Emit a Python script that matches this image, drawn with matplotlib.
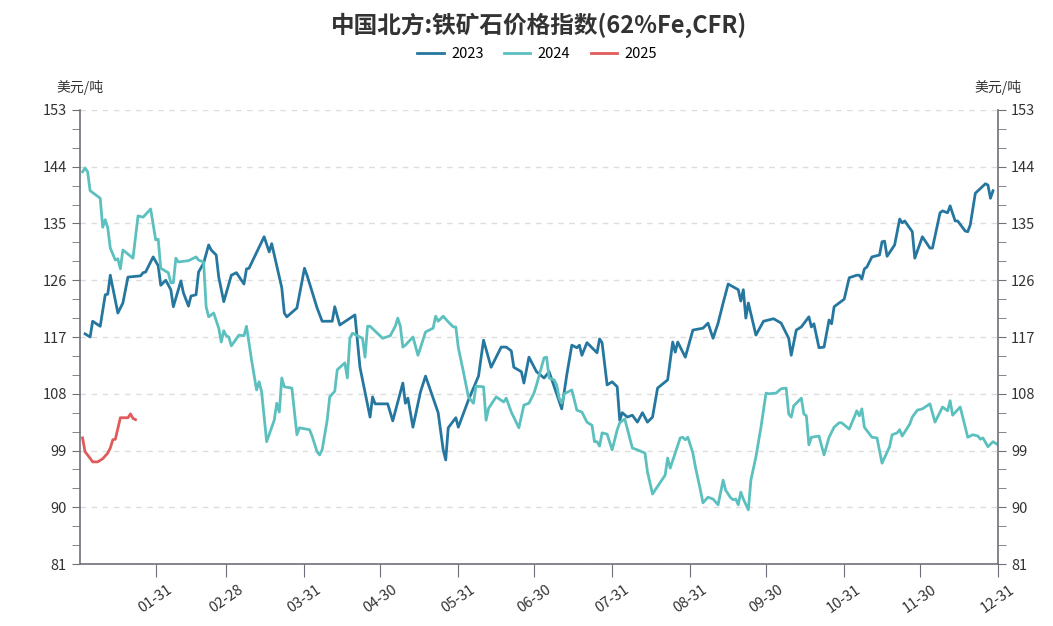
import matplotlib
matplotlib.use("Agg")
import matplotlib.pyplot as plt
from matplotlib.ticker import MultipleLocator

plt.rcParams['font.family'] = ['Noto Sans CJK SC', 'DejaVu Sans']

# x = day of year, 0 = 01-01 ... 364 = 12-31
x2023 = [2, 4, 5, 8, 10, 11, 12, 15, 17, 19, 24, 25, 26, 29, 31, 32, 34, 36, 37, 40,
         41, 43, 44, 46, 47, 49, 51, 52, 54, 55, 57, 58, 60, 62, 65, 66, 67, 73, 75, 76,
         80, 81, 82, 86, 89, 90, 94, 96, 100, 101, 103, 109, 111, 115, 116, 117, 122, 124, 128, 129,
         130, 132, 135, 137, 142, 144, 145, 146, 149, 150, 154, 158, 160, 163, 167, 169, 171, 172, 175, 176,
         178, 181, 184, 186, 191, 193, 195, 197, 198, 199, 201, 205, 206, 207, 209, 211, 213, 214, 215, 217,
         219, 221, 223, 225, 227, 229, 233, 235, 236, 237, 240, 243, 247, 249, 251, 253, 255, 257, 261, 262,
         263, 264, 265, 268, 271, 275, 278, 281, 282, 284, 286, 289, 290, 291, 293, 295, 297, 298, 299, 303,
         305, 308, 309, 310, 311, 312, 314, 317, 318, 319, 320, 323, 325, 326, 327, 330, 331, 334, 337, 338,
         341, 342, 344, 345, 347, 348, 351, 352, 353, 355, 359, 360, 361, 362]
y2023 = [117.5, 117.0, 119.5, 118.7, 123.7, 123.8, 126.8, 120.8, 122.4, 126.5, 126.7, 127.2, 127.3, 129.7, 128.3, 125.2, 126.0, 124.5, 121.8, 125.9,
         124.0, 121.9, 123.5, 123.7, 127.3, 128.7, 131.6, 130.8, 130.0, 126.5, 122.6, 124.0, 126.8, 127.2, 125.4, 127.8, 127.9, 132.9, 130.5, 131.8,
         124.8, 120.8, 120.2, 121.6, 127.9, 126.8, 121.6, 119.5, 119.5, 121.8, 118.9, 120.5, 112.2, 104.3, 107.5, 106.4, 106.4, 103.7, 109.7, 106.5,
         107.3, 102.7, 108.3, 110.8, 105.0, 99.1, 97.5, 102.6, 104.2, 102.7, 107.0, 110.8, 116.5, 112.2, 115.4, 115.4, 114.8, 112.2, 111.5, 109.7,
         113.8, 111.5, 110.5, 111.5, 105.6, 111.0, 115.7, 115.3, 115.7, 114.1, 116.1, 114.5, 116.7, 116.1, 109.4, 109.9, 109.1, 103.8, 105.0, 104.3,
         104.6, 103.5, 105.0, 103.5, 104.3, 108.9, 110.2, 116.2, 114.6, 116.2, 113.8, 118.1, 118.4, 119.2, 116.8, 119.2, 122.4, 125.4, 124.5, 122.7,
         124.5, 120.0, 122.4, 117.3, 119.5, 119.9, 119.2, 116.8, 114.1, 118.1, 118.6, 120.2, 118.6, 119.1, 115.3, 115.4, 119.7, 119.1, 121.8, 123.0,
         126.4, 126.8, 126.8, 126.2, 127.8, 128.1, 129.7, 130.0, 132.1, 132.2, 129.8, 131.6, 135.7, 135.1, 135.4, 133.7, 129.5, 132.9, 131.1, 131.1,
         136.7, 137.0, 136.7, 137.8, 135.4, 135.4, 133.8, 133.7, 134.8, 139.8, 141.3, 141.1, 139.0, 140.2]

x2024 = [1, 2, 3, 4, 8, 9, 10, 11, 12, 14, 15, 16, 17, 21, 23, 25, 28, 30, 31, 32,
         35, 36, 37, 38, 39, 43, 46, 47, 49, 50, 51, 53, 55, 56, 57, 58, 59, 60, 63, 65,
         66, 68, 70, 71, 72, 74, 77, 78, 79, 80, 81, 84, 86, 87, 91, 92, 94, 95, 96, 98,
         99, 101, 102, 105, 106, 107, 108, 112, 113, 114, 115, 120, 123, 125, 126, 127, 128, 129, 132, 134,
         135, 137, 140, 141, 142, 144, 146, 148, 149, 150, 152, 154, 156, 157, 160, 161, 162, 165, 168, 169,
         171, 174, 176, 178, 180, 181, 184, 185, 186, 188, 189, 190, 191, 192, 195, 197, 199, 201, 203, 204,
         205, 206, 207, 209, 211, 213, 214, 216, 219, 221, 224, 225, 227, 232, 233, 234, 238, 239, 240, 241,
         243, 244, 246, 247, 249, 251, 253, 255, 256, 258, 259, 260, 261, 262, 263, 265, 266, 268, 270, 272,
         273, 276, 278, 280, 281, 282, 283, 286, 287, 288, 289, 290, 293, 295, 297, 299, 301, 302, 305, 307,
         308, 309, 310, 311, 314, 316, 318, 321, 322, 324, 325, 326, 329, 330, 332, 334, 337, 339, 342, 344,
         345, 346, 349, 352, 354, 356, 357, 358, 360, 362, 364]
y2024 = [143.2, 143.8, 143.2, 140.2, 139.0, 134.4, 135.6, 134.3, 131.1, 129.2, 129.4, 127.8, 130.8, 129.5, 136.2, 136.0, 137.3, 132.4, 132.5, 127.9,
         127.2, 125.6, 125.6, 129.5, 128.9, 129.1, 129.7, 129.2, 128.9, 121.8, 120.2, 120.8, 118.4, 116.2, 118.0, 117.2, 117.0, 115.6, 117.3, 117.2,
         118.7, 113.4, 108.6, 109.9, 108.3, 100.4, 103.8, 106.5, 105.1, 110.5, 109.1, 108.9, 101.5, 102.6, 102.3, 101.3, 98.8, 98.3, 99.1, 103.8,
         107.5, 108.4, 111.8, 112.9, 110.5, 116.8, 117.6, 116.8, 113.8, 118.7, 118.7, 116.8, 117.2, 118.7, 120.0, 118.7, 115.4, 115.7, 117.0, 114.1,
         115.3, 117.8, 118.4, 120.3, 119.5, 120.3, 119.4, 118.6, 118.6, 115.3, 111.5, 107.5, 106.5, 109.2, 109.1, 103.8, 105.7, 107.5, 106.7, 107.3,
         105.1, 102.6, 106.2, 106.5, 108.1, 109.4, 113.7, 113.8, 110.5, 110.2, 109.4, 107.3, 106.5, 108.0, 108.6, 105.4, 105.1, 103.5, 103.0, 100.4,
         100.4, 99.7, 101.8, 101.6, 99.1, 102.3, 103.4, 104.0, 99.4, 99.1, 98.6, 95.6, 92.1, 95.1, 97.8, 96.2, 101.0, 101.1, 100.7, 101.1,
         98.6, 96.4, 92.7, 90.7, 91.6, 91.3, 90.4, 94.3, 92.7, 91.5, 91.2, 91.3, 90.4, 92.4, 91.3, 89.6, 94.3, 98.0, 102.7, 108.1,
         108.0, 108.1, 108.8, 108.9, 104.8, 104.3, 106.1, 107.3, 104.8, 104.5, 99.9, 101.1, 101.3, 98.3, 101.1, 102.7, 103.4, 103.4, 102.4, 104.3,
         105.3, 104.5, 105.6, 102.7, 101.1, 101.0, 97.0, 99.6, 101.5, 101.8, 102.3, 101.3, 103.2, 104.3, 105.4, 105.6, 106.4, 103.5, 105.9, 105.3,
         106.9, 104.6, 105.9, 101.1, 101.5, 101.3, 100.8, 101.0, 99.6, 100.4, 99.9]

x2025 = [1, 2, 3, 5, 7, 9, 11, 12, 13, 14, 16, 18, 19, 20, 21, 22]
y2025 = [101.0, 98.8, 98.3, 97.2, 97.2, 97.7, 98.6, 99.4, 100.7, 100.8, 104.2, 104.2, 104.2, 104.8, 104.1, 103.9]

tick_pos = [30, 58, 89, 119, 150, 180, 211, 242, 272, 303, 333, 364]
tick_labels = ["01-31", "02-28", "03-31", "04-30", "05-31", "06-30",
               "07-31", "08-31", "09-30", "10-31", "11-30", "12-31"]

fig = plt.figure(figsize=(10.53, 6.26), dpi=100)
ax = fig.add_axes([0.076, 0.099, 0.8718, 0.7253])

ax.plot(x2023, y2023, color="#25779f", lw=2, label="2023")
ax.plot(x2024, y2024, color="#5cc0bf", lw=2, label="2024")
ax.plot(x2025, y2025, color="#e05b5b", lw=2, label="2025")

ax.set_xlim(0, 364)
ax.set_ylim(81, 153)
ax.yaxis.set_major_locator(MultipleLocator(9))
ax.yaxis.set_minor_locator(MultipleLocator(3))
ax.set_xticks(tick_pos)
ax.set_xticklabels(tick_labels, rotation=35, ha="center", va="top")

ax.grid(axis="y", which="major", color="#dddddd", linestyle=(0, (4, 4)), lw=1)
ax.set_axisbelow(True)

for s in ["left", "right", "bottom"]:
    ax.spines[s].set_color("#6e7079")
    ax.spines[s].set_linewidth(1.2)
ax.spines["top"].set_visible(False)

ax.yaxis.set_ticks_position("both")
ax.tick_params(axis="y", which="both", direction="out", labelright=True,
               color="#6e7079", labelcolor="#333333", labelsize=10.5)
ax.tick_params(axis="y", which="major", length=6)
ax.tick_params(axis="y", which="minor", length=6)
ax.tick_params(axis="x", direction="out", length=9, color="#6e7079",
               labelcolor="#333333", labelsize=10.5, pad=4)

fig.text(0.076, 0.86, "美元/吨", ha="center", va="center", fontsize=10, color="#333333")
fig.text(0.948, 0.86, "美元/吨", ha="center", va="center", fontsize=10, color="#333333")

fig.text(0.512, 0.96, "中国北方:铁矿石价格指数(62%Fe,CFR)", ha="center", va="center",
         fontsize=17, fontweight="bold", color="#333333")
fig.legend(loc="center", bbox_to_anchor=(0.51, 0.913), ncol=3, frameon=False,
           fontsize=10.5, handlelength=1.8, handletextpad=0.5, columnspacing=1.4)

fig.savefig("out.png", dpi=100)
